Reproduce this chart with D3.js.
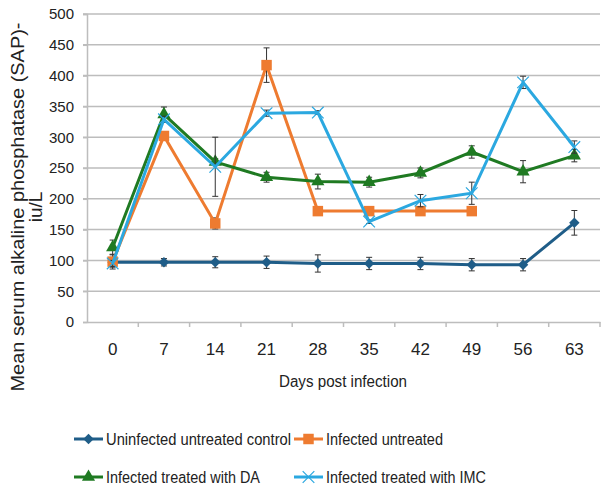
<!DOCTYPE html>
<html>
<head>
<meta charset="utf-8">
<script src="https://cdn.jsdelivr.net/npm/d3@7"></script>
<style>
  body { margin: 0; background: #fff; }
  text { font-family: "Liberation Sans", Arial, sans-serif; fill: #222; }
</style>
</head>
<body>
<script>
var days = ["0", "7", "14", "21", "28", "35", "42", "49", "56", "63"]
var yTicks = [0, 50, 100, 150, 200, 250, 300, 350, 400, 450, 500]

// mean values, with error bar half-widths
var control = [97, 97, 97, 97, 95, 95, 95, 93, 93, 161]
var controlErr = [8, 6, 9, 10, 14, 10, 10, 10, 10, 20]
var untreated = [98, 302, 160, 417, 180, 180, 180, 180]
var untreatedErr = [12, 5, 9, 28, 3, 3, 3, 3]
var dA = [121, 337, 260, 235, 228, 227, 242, 276, 244, 270]
var dAErr = [12, 12, 5, 8, 12, 8, 8, 10, 18, 10]
var iMC = [95, 329, 252, 339, 340, 163, 197, 209, 389, 284]
var iMCErr = [5, 5, 48, 5, 3, 3, 10, 18, 10, 10]

var names = ["Uninfected untreated control", "Infected untreated",
             "Infected treated with DA", "Infected treated with IMC"]
var colors = ["#1f5d88", "#ee7b30", "#1f7a22", "#2ba8e0"]
var symbols = [d3.symbolDiamond2, d3.symbolSquare, d3.symbolTriangle, d3.symbolX]

var series = [
  {name: names[0], values: control, err: controlErr, color: colors[0], sym: symbols[0], size: 70},
  {name: names[1], values: untreated, err: untreatedErr, color: colors[1], sym: symbols[1], size: 110},
  {name: names[2], values: dA, err: dAErr, color: colors[2], sym: symbols[2], size: 75},
  {name: names[3], values: iMC, err: iMCErr, color: colors[3], sym: symbols[3], size: 90}
]

var w = 603, h = 489

var svg = d3.select("body").append("svg")
    .attr("width", w)
    .attr("height", h)

var x = d3.scaleBand().domain(days).range([87, 600])
var y = d3.scaleLinear().domain([0, 500]).range([322, 14])

// gridlines
svg.selectAll(".grid")
  .data(yTicks.slice(1))
  .enter().append("line")
    .attr("x1", 83).attr("x2", 600)
    .attr("y1", function(d){ return y(d) })
    .attr("y2", function(d){ return y(d) })
    .style("stroke", "#bdbdbd")
    .style("stroke-width", 1.5)

// y axis
var yAxis = svg.append("g")
    .attr("transform", "translate(87,0)")
    .call(d3.axisLeft(y).tickValues(yTicks).tickSize(4).tickPadding(9))
yAxis.select(".domain").style("stroke", "#bdbdbd").style("stroke-width", 1.5)
yAxis.selectAll(".tick line").style("stroke", "#bdbdbd").style("stroke-width", 1.5)
yAxis.selectAll("text").style("font-size", "15px").style("fill", "#222")
  .attr("font-family", null)

// x axis with ticks between categories
var xAxis = svg.append("g")
    .attr("transform", "translate(0,322)")
    .call(d3.axisBottom(x).tickSize(0).tickPadding(21))
xAxis.select(".domain").style("stroke", "#bdbdbd").style("stroke-width", 1.5)
xAxis.selectAll("text").style("font-size", "17px").style("fill", "#222")
  .attr("font-family", null)
xAxis.selectAll(".sep")
  .data(days)
  .enter().append("line")
    .attr("x1", function(d){ return x(d) + x.bandwidth() })
    .attr("x2", function(d){ return x(d) + x.bandwidth() })
    .attr("y1", 0).attr("y2", 5)
    .style("stroke", "#bdbdbd").style("stroke-width", 1.5)

// axis titles
svg.append("text")
    .attr("x", 343).attr("y", 387)
    .attr("text-anchor", "middle")
    .style("font-size", "16px")
    .attr("textLength", 128).attr("lengthAdjust", "spacingAndGlyphs")
    .text("Days post infection")

var yt = svg.append("text")
    .attr("transform", "translate(0,207) rotate(-90)")
    .attr("text-anchor", "middle")
    .style("font-size", "19px")
yt.append("tspan").attr("x", 0).attr("y", 24)
    .attr("textLength", 369).attr("lengthAdjust", "spacingAndGlyphs")
    .text("Mean serum alkaline phosphatase (SAP)-")
yt.append("tspan").attr("x", 0).attr("y", 42).text("iu/L")

var line = d3.line()
    .x(function(d, i){ return x(days[i]) + x.bandwidth() / 2 })
    .y(function(d){ return y(d) })

series.forEach(function(s) {
  var g = svg.append("g")

  // error bars
  var eb = g.selectAll(".eb")
    .data(s.values)
    .enter().append("g")
      .attr("transform", function(d, i){ return "translate(" + (x(days[i]) + x.bandwidth() / 2) + ",0)" })
  eb.append("line")
      .attr("y1", function(d, i){ return y(d + s.err[i]) })
      .attr("y2", function(d, i){ return y(d - s.err[i]) })
      .style("stroke", "#333").style("stroke-width", 1)
  eb.append("line")
      .attr("x1", -3).attr("x2", 3)
      .attr("y1", function(d, i){ return y(d + s.err[i]) })
      .attr("y2", function(d, i){ return y(d + s.err[i]) })
      .style("stroke", "#333").style("stroke-width", 1)
  eb.append("line")
      .attr("x1", -3).attr("x2", 3)
      .attr("y1", function(d, i){ return y(d - s.err[i]) })
      .attr("y2", function(d, i){ return y(d - s.err[i]) })
      .style("stroke", "#333").style("stroke-width", 1)

  g.append("path")
    .datum(s.values)
    .attr("d", line)
    .style("fill", "none")
    .style("stroke", s.color)
    .style("stroke-width", 3)

  g.selectAll(".pt")
    .data(s.values)
    .enter().append("path")
      .attr("transform", function(d, i){ return "translate(" + (x(days[i]) + x.bandwidth() / 2) + "," + y(d) + ")" })
      .attr("d", d3.symbol().type(s.sym).size(s.size))
      .style("fill", s.sym === d3.symbolX ? "none" : s.color)
      .style("stroke", s.color)
      .style("stroke-width", s.sym === d3.symbolX ? 1.2 : 0)
})

// legend
var legPos = [[74, 439], [294, 439], [74, 477], [294, 477]]
var legLen = [185, 117, 154, 160]
series.forEach(function(s, i) {
  var lg = svg.append("g").attr("transform", "translate(" + legPos[i][0] + "," + legPos[i][1] + ")")
  lg.append("line")
      .attr("x1", 0).attr("x2", 29)
      .style("stroke", s.color).style("stroke-width", 3)
  lg.append("path")
      .attr("transform", "translate(14.5,0)")
      .attr("d", d3.symbol().type(s.sym).size(s.size))
      .style("fill", s.sym === d3.symbolX ? "none" : s.color)
      .style("stroke", s.color)
      .style("stroke-width", s.sym === d3.symbolX ? 1.2 : 0)
  lg.append("text")
      .attr("x", 32).attr("y", 6)
      .style("font-size", "16px")
      .attr("textLength", legLen[i]).attr("lengthAdjust", "spacingAndGlyphs")
      .text(s.name)
})
</script>
</body>
</html>
